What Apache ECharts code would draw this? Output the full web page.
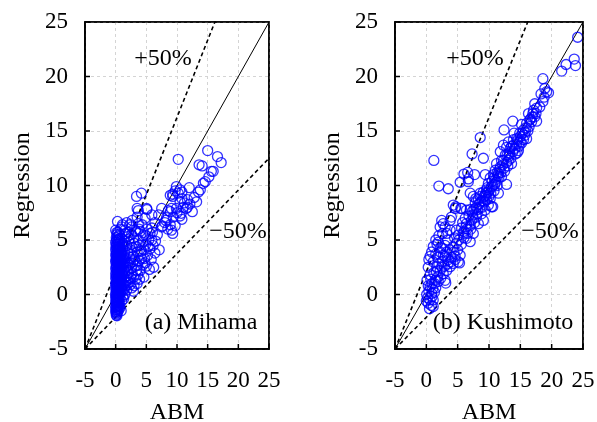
<!DOCTYPE html>
<html><head><meta charset="utf-8">
<script src="https://cdn.jsdelivr.net/npm/echarts@6/dist/echarts.min.js"></script>
<style>html,body{margin:0;padding:0;background:#fff}#c{width:597px;height:422px}</style>
</head><body><div id="c"></div>
<script>
// ---- data ----
const axisMin = -5, axisMax = 25, axisStep = 5;
const tickValues = [-5, 0, 5, 10, 15, 20, 25];
const xTitle = 'ABM';
const yTitle = 'Regression';
const panelTitles = ['(a) Mihama', '(b) Kushimoto'];
const plusLabel = '+50%';
const minusLabel = '\u221250%';

const oneToOne = [[-5, -5], [25, 25]];
const plus50 = [[-5, -5], [25, 37.5]];
const minus50 = [[-5, -5], [25, 12.5]];

const mihama = [
  [0.1,-1.9],[0.2,-1.8],[0.0,-1.6],[0.3,-1.6],[0.1,-1.4],[0.4,-1.3],[0.0,-1.2],[0.2,-1.1],[0.5,-1.0],[0.1,-0.9],
  [0.3,-0.8],[0.0,-0.7],[0.6,-0.7],[0.2,-0.5],[0.4,-0.4],[0.0,-0.3],[0.7,-0.3],[0.1,-0.2],[0.3,-0.1],[0.5,0.0],
  [0.0,0.1],[0.2,0.2],[0.8,0.2],[0.4,0.3],[0.1,0.4],[0.6,0.5],[0.0,0.6],[0.3,0.6],[0.9,0.7],[0.2,0.8],
  [0.5,0.9],[0.0,1.0],[0.7,1.0],[0.1,1.1],[0.4,1.2],[1.0,1.2],[0.2,1.3],[0.6,1.4],[0.0,1.5],[0.3,1.6],
  [0.8,1.6],[0.1,1.7],[0.5,1.8],[1.1,1.8],[0.0,1.9],[0.3,2.0],[0.7,2.1],[0.1,2.2],[0.4,2.3],[0.9,2.3],
  [0.0,2.4],[0.2,2.5],[0.6,2.6],[1.2,2.6],[0.1,2.7],[0.4,2.8],[0.8,2.9],[0.0,3.0],[0.3,3.1],[1.0,3.1],
  [0.5,3.2],[0.1,3.3],[0.7,3.4],[0.2,3.5],[0.0,3.6],[0.4,3.7],[0.9,3.7],[0.1,3.8],[0.6,3.9],[0.3,4.0],
  [0.0,4.1],[0.8,4.2],[0.2,4.3],[0.5,4.4],[0.1,4.6],[0.4,4.7],[0.0,4.8],[0.3,5.0],[0.6,5.1],[0.1,5.2],
  [0.2,5.5],[0.4,5.7],[0.0,5.9],
  [0.2,-1.95],[0.15,-1.7],[0.25,-1.4],[0.05,-1.1],[0.35,-1.0],[0.15,-0.75],[0.45,-0.6],[0.25,-0.3],[0.55,-0.2],[0.05,-0.05],
  [0.35,0.15],[0.65,0.1],[0.15,0.35],[0.45,0.5],[0.75,0.55],[0.25,0.7],[0.05,0.85],[0.55,1.05],[0.35,1.35],[0.85,1.35],
  [0.15,1.55],[0.65,1.65],[0.45,1.95],[0.25,2.15],[0.95,2.0],[0.55,2.4],[0.15,2.6],[0.75,2.7],[0.35,2.9],[1.05,2.85],
  [0.05,3.15],[0.55,3.0],[0.25,3.3],[0.85,3.3],[0.45,3.5],[0.15,3.75],[0.75,3.6],[0.35,4.2],[0.05,4.4],[0.65,4.3],
  [0.25,4.55],[0.45,4.9],[0.15,5.0],[0.35,5.3],[0.7,4.8],[1.1,4.7],[0.9,4.0],[1.2,3.3],[1.3,2.3],[1.0,1.5],
  [1.15,1.0],[0.95,0.4],[1.5,0.0],[1.3,-0.4],[0.6,-1.0],
  [0.1,-1.5],[0.3,-1.25],[0.5,-1.45],[0.1,-0.55],[0.4,-0.15],[0.6,0.3],[0.3,0.85],[0.7,1.25],[0.2,1.85],[0.6,2.0],
  [0.3,2.35],[0.9,2.6],[0.5,2.65],[0.2,3.05],[0.6,3.35],[0.3,3.55],[0.8,3.85],[0.5,4.05],[0.2,4.15],[0.6,4.6],
  [0.9,-1.5],[0.7,-1.2],[1.0,-0.6],[1.2,-0.2],[1.1,0.3],[1.4,0.5],[1.3,0.9],[1.6,1.1],[1.4,1.5],[1.8,1.7],
  [1.5,2.1],[2.0,2.2],[1.7,2.5],[2.2,2.7],[1.4,2.9],[1.9,3.0],[1.6,3.3],[2.3,3.4],[1.3,3.6],[2.0,3.8],
  [1.5,4.0],[2.4,4.1],[1.2,4.4],[1.8,4.5],[2.2,4.8],[1.4,4.9],[1.0,5.1],[1.9,5.3],[1.6,5.6],[2.1,2.0],
  [2.5,1.5],[2.4,0.9],[2.0,1.3],[1.8,0.4],[2.6,2.4],[2.8,3.0],
  [1.7,0.8],[2.2,1.1],[2.6,0.6],[3.5,1.0],[3.9,1.4],[2.9,1.6],[3.4,2.2],[2.4,2.9],[3.0,3.2],[3.6,2.7],
  [4.2,3.3],[4.8,2.9],[4.1,3.7],[2.5,3.7],[3.3,4.4],[4.4,4.8],[2.9,5.2],[2.2,5.1],[4.0,5.8],[4.9,5.4],
  [5.6,5.6],[5.3,4.4],[4.6,4.1],[5.9,5.0],[6.8,5.5],[3.8,6.0],[2.3,6.4],[1.8,6.6],[0.8,6.0],[0.6,5.5],
  [2.9,0.3],[3.0,0.8],[3.3,1.4],[2.7,1.9],[3.6,1.8],[4.0,2.2],[3.2,2.6],[4.4,2.7],[3.8,3.1],[2.9,3.5],
  [4.7,3.3],[5.2,3.6],[3.5,3.9],[4.2,4.0],[5.6,4.2],[6.1,4.5],[4.9,4.6],[3.0,4.7],[3.7,5.0],[5.4,5.0],
  [6.5,4.9],[4.5,5.4],[2.6,5.5],[3.3,5.8],[6.0,5.7],[5.1,6.0],[6.2,2.5],[7.1,4.1],[5.8,3.2],[4.6,1.6],
  [5.0,2.6],[3.9,4.5],[2.7,4.3],[6.4,3.8],[5.5,2.3],
  [0.3,6.7],[0.2,5.7],[1.0,6.2],[1.5,5.9],[1.1,6.4],[2.1,5.7],[2.6,6.2],[3.2,5.9],[3.7,6.5],[4.3,6.4],
  [2.7,6.8],[4.8,7.0],[5.1,7.8],[3.7,7.7],[3.5,7.9],[5.9,7.3],[6.4,6.6],[3.4,9.0],[4.2,9.3],[3.5,7.1],
  [5.05,7.9],[5.9,6.1],[7.0,7.3],[7.5,6.2],
  [7.6,6.3],[8.0,6.6],[8.2,6.8],[8.3,7.05],[8.6,7.7],[8.9,6.4],[9.1,7.9],[9.1,5.9],[9.3,5.6],[9.4,7.1],
  [9.7,6.3],[10.0,7.5],[10.5,7.2],[10.8,6.9],[10.7,7.45],[8.9,7.6],[9.9,7.9],[7.5,7.9],[8.5,6.0],[11.0,8.0],
  [11.7,8.0],[12.1,8.3],[11.2,8.4],[10.8,8.8],[11.7,8.7],[12.5,7.6],[11.5,7.9],[10.5,8.5],[9.3,9.2],[8.9,9.1],
  [9.3,9.0],[9.7,9.5],[9.9,9.9],[10.2,9.3],[10.5,9.6],[10.8,9.4],[12.0,9.8],[13.5,9.4],[13.8,9.6],[10.2,12.4],
  [15.0,13.2],[16.6,12.65],[17.2,12.1],[13.6,11.9],[14.1,11.8],[15.6,11.3],[15.9,11.3],[15.2,10.8],[14.6,10.35],[14.3,10.2],
  [12.8,8.9],[13.2,8.5]
];

const kushimoto = [
  [0.3,-0.8],[1.1,-1.1],[0.5,-1.3],[0.8,-1.0],[1.1,-0.5],[0.0,-0.6],[0.85,0.1],[0.05,0.0],[0.4,0.3],[1.3,0.2],
  [0.6,0.7],[1.5,0.6],[0.1,1.3],[1.4,1.3],[0.9,1.0],[0.6,1.8],[1.8,1.6],[1.2,2.0],[0.3,2.5],[1.65,2.55],
  [2.2,2.2],[2.7,1.9],[3.1,1.05],[3.0,1.3],[1.1,3.0],[0.6,3.5],[0.85,3.9],[1.1,4.4],[2.2,3.9],[2.7,3.6],
  [3.25,3.9],[3.25,2.2],[3.8,2.55],[4.3,2.85],[5.1,3.0],[5.3,2.9],[4.6,3.5],[5.4,3.6],[3.8,4.1],[4.3,4.4],
  [4.8,4.7],[1.8,3.4],[2.0,2.8],[2.5,3.0],[1.5,3.7],[0.4,3.2],[2.9,2.6],[3.5,3.2],[4.0,3.4],[2.3,4.3],
  [1.7,4.6],
  [0.2,-0.3],[0.6,-0.5],[0.9,-0.2],[0.3,0.8],[1.0,0.5],[0.7,1.4],[1.3,1.0],[1.9,1.2],[2.3,1.5],[1.6,2.1],
  [2.5,2.5],[3.4,2.8],[3.0,3.5],[3.9,3.0],[4.6,3.2],[4.4,3.9],[5.0,4.1],[5.6,4.6],[5.2,5.0],[6.0,5.2],
  [6.6,5.6],[6.3,6.2],[7.1,6.0],[7.7,6.6],[7.4,7.3],[8.1,7.4],[8.6,8.0],[8.0,8.0],[9.0,8.6],[9.6,8.7],
  [9.8,9.4],[10.3,9.3],[10.6,10.0],[11.1,10.3],[11.4,10.9],[11.9,11.2],[12.4,11.6],[12.8,12.1],[13.6,12.0],[13.2,12.7],
  [13.8,13.1],[14.5,13.0],[14.4,13.8],[15.0,14.5],[15.8,14.9],[16.4,15.4],[16.9,16.3],[17.5,16.6],[18.1,17.2],[18.3,18.4],
  [2.2,6.2],[2.45,6.8],[2.7,6.5],[3.0,6.2],[3.25,5.6],[3.8,5.9],[3.8,6.8],[4.0,7.1],[4.3,8.2],[4.6,7.9],
  [5.6,7.9],[6.4,7.75],[1.5,5.0],[2.0,5.4],[2.6,5.6],[1.9,4.8],[3.4,5.0],[4.5,5.2],[5.1,5.45],[5.9,5.6],
  [6.4,5.15],[7.0,4.85],[7.5,5.6],[5.6,6.1],[6.4,6.5],[7.2,6.8],[4.8,5.9],[3.0,4.5],[2.6,4.2],
  [1.2,12.3],[2.0,9.95],[3.5,9.7],[8.6,14.4],[7.3,12.9],[9.1,12.5],[6.0,11.05],[6.6,11.2],[7.7,11.0],[6.7,10.6],
  [9.4,11.0],[4.7,8.05],[5.5,7.9],[10.6,8.05],[12.4,15.1],[13.8,15.9],[12.8,10.1],[11.5,9.3],[6.7,10.35],[7.0,9.3],
  [7.5,9.0],[5.4,10.3],
  [8.3,6.5],[9.1,6.8],[8.8,7.4],[8.0,7.1],[9.4,7.75],[9.9,8.2],[10.4,8.05],[10.2,8.8],[9.6,9.1],[8.6,9.3],
  [7.8,8.4],[8.6,9.0],[9.4,9.1],[9.1,9.4],[9.6,9.6],[10.4,9.9],[9.9,10.2],[11.0,10.5],[10.2,10.7],[10.7,11.0],
  [11.5,11.1],[11.0,11.4],[11.8,11.7],[11.2,12.0],[12.0,12.3],[13.1,12.3],[12.6,12.8],[11.8,13.1],[12.3,13.7],[14.7,13.2],
  [14.1,13.4],[13.6,13.6],[12.8,13.5],[13.1,14.0],[13.9,14.2],[15.2,13.9],[14.4,14.3],[16.0,14.3],[14.9,14.8],[15.7,14.6],
  [15.5,15.1],[15.2,15.6],[16.0,15.7],[16.8,15.85],[17.3,16.3],[16.3,16.6],[17.1,16.9],[17.6,17.1],[17.3,17.5],[17.6,15.9],
  [18.6,17.7],[18.8,18.1],[19.5,18.5],[19.2,18.6],[18.9,18.9],[18.6,19.8],[22.3,21.1],[23.8,21.0],[23.6,21.6],[21.6,20.5],
  [24.15,23.6],
  [6.0,5.8],[6.5,6.0],[7.0,6.3],[7.5,7.0],[8.2,7.8],[8.9,8.0],[9.3,8.5],[10.0,9.0],[10.8,9.5],[11.3,10.0],
  [12.0,10.8],[12.5,11.3],[13.0,11.8],[13.5,12.5],[14.2,12.9],[14.8,13.6],[15.5,14.2],[16.2,15.0],[6.8,7.2],[7.3,7.6],
  [7.9,8.8],[8.4,8.3],[5.8,6.6],[6.2,7.0],[7.0,7.8],[10.5,10.4],[11.6,10.8],[12.2,11.9],[13.3,13.0],[14.0,14.8],
  [15.0,14.0],[16.5,16.0],
  [8.7,8.5],[9.2,9.0],[9.7,9.8],[10.1,9.6],[10.9,10.1],[11.3,11.2],[11.7,11.5],[12.3,12.3],[12.9,12.8],[13.4,13.4],
  [13.9,13.7],[14.6,14.2],[15.3,14.8],[15.9,15.3],[16.6,16.1],[17.0,16.6],[7.6,7.8],[8.3,8.7],[9.5,9.3],[10.8,10.7]
];

// ---- chart ----
const FONT = '"Liberation Serif","Times New Roman",serif';
const chart = echarts.init(document.getElementById('c'));

const grids = [
  {left: 85, top: 22, width: 184, height: 327},
  {left: 395, top: 22, width: 188, height: 327}
];
function gridSplit() { return {show: true, lineStyle: {color: '#d4d4d4', width: 1, type: [3, 3]}}; }
function frame() { return {show: true, onZero: false, lineStyle: {color: '#000', width: 1.5}}; }

function xAxis(i) {
  return {
    gridIndex: i, type: 'value', min: axisMin, max: axisMax, interval: axisStep,
    name: xTitle, nameLocation: 'middle', nameGap: 52,
    nameTextStyle: {fontFamily: FONT, fontSize: 24, color: '#000'},
    axisLine: frame(), axisTick: {show: false},
    axisLabel: {fontFamily: FONT, fontSize: 23, color: '#000', margin: 20},
    splitLine: gridSplit()
  };
}
function yAxis(i) {
  return {
    gridIndex: i, type: 'value', min: axisMin, max: axisMax, interval: axisStep,
    name: yTitle, nameLocation: 'middle', nameGap: 50,
    nameTextStyle: {fontFamily: FONT, fontSize: 24, color: '#000'},
    axisLine: frame(), axisTick: {show: false},
    axisLabel: {fontFamily: FONT, fontSize: 23, color: '#000', margin: 17},
    splitLine: gridSplit()
  };
}

function refLines(i) {
  const base = {type: 'line', xAxisIndex: i, yAxisIndex: i, symbol: 'none', silent: true, z: 3};
  return [
    Object.assign({}, base, {data: oneToOne, lineStyle: {color: '#000', width: 1}}),
    Object.assign({}, base, {data: plus50, lineStyle: {color: '#000', width: 1.6, type: [4, 3]}}),
    Object.assign({}, base, {data: minus50, lineStyle: {color: '#000', width: 1.6, type: [4, 3]}})
  ];
}
function scatter(i, data) {
  return {
    type: 'scatter', xAxisIndex: i, yAxisIndex: i, data: data, symbol: 'circle', symbolSize: 10,
    itemStyle: {color: 'rgba(0,0,0,0)', borderColor: '#0000ff', borderWidth: 1.3},
    z: 4, silent: true
  };
}

function txt(text, x, y) {
  return {type: 'text', x: x, y: y, z: 10, silent: true,
    style: {text: text, fill: '#000', font: '24px ' + FONT, align: 'center', verticalAlign: 'middle',
            textAlign: 'center', textVerticalAlign: 'middle'}};
}

function toPx(i, v, isX) {
  const g = grids[i];
  let p = null;
  try { p = chart.convertToPixel({gridIndex: i}, isX ? [v, axisMin] : [axisMin, v]); } catch (e) { p = null; }
  const ok = p && isFinite(p[0]) && isFinite(p[1]);
  if (isX) return ok ? p[0] : g.left + (v - axisMin) / (axisMax - axisMin) * g.width;
  return ok ? p[1] : g.top + (axisMax - v) / (axisMax - axisMin) * g.height;
}

chart.setOption({
  backgroundColor: '#fff',
  grid: grids.map(g => Object.assign({show: true, borderColor: '#000', borderWidth: 1.5, outerBoundsMode: 'none', containLabel: false}, g)),
  xAxis: [xAxis(0), xAxis(1)],
  yAxis: [yAxis(0), yAxis(1)],
  series: [].concat(refLines(0), [scatter(0, mihama)], refLines(1), [scatter(1, kushimoto)])
});

const overlay = [];
grids.forEach(function (g, i) {
  const left = g.left, top = g.top, right = g.left + g.width, bottom = g.top + g.height;
  overlay.push({type: 'rect', z: 50, silent: true,
    shape: {x: left, y: top, width: right - left, height: bottom - top},
    style: {fill: 'rgba(0,0,0,0)', stroke: '#000', lineWidth: 1.5}});
  tickValues.forEach(function (v) {
    const tx = toPx(i, v, true), ty = toPx(i, v, false);
    overlay.push({type: 'line', z: 50, silent: true,
      shape: {x1: tx, y1: bottom, x2: tx, y2: bottom - 5}, style: {stroke: '#000', lineWidth: 1.5}});
    overlay.push({type: 'line', z: 50, silent: true,
      shape: {x1: left, y1: ty, x2: left + 5, y2: ty}, style: {stroke: '#000', lineWidth: 1.5}});
  });
});
overlay.push(
  txt(plusLabel, 163, 59), txt(minusLabel, 238, 232), txt(panelTitles[0], 201, 323),
  txt(plusLabel, 475, 59), txt(minusLabel, 550, 232), txt(panelTitles[1], 503, 323)
);
chart.setOption({graphic: overlay});
</script></body></html>
